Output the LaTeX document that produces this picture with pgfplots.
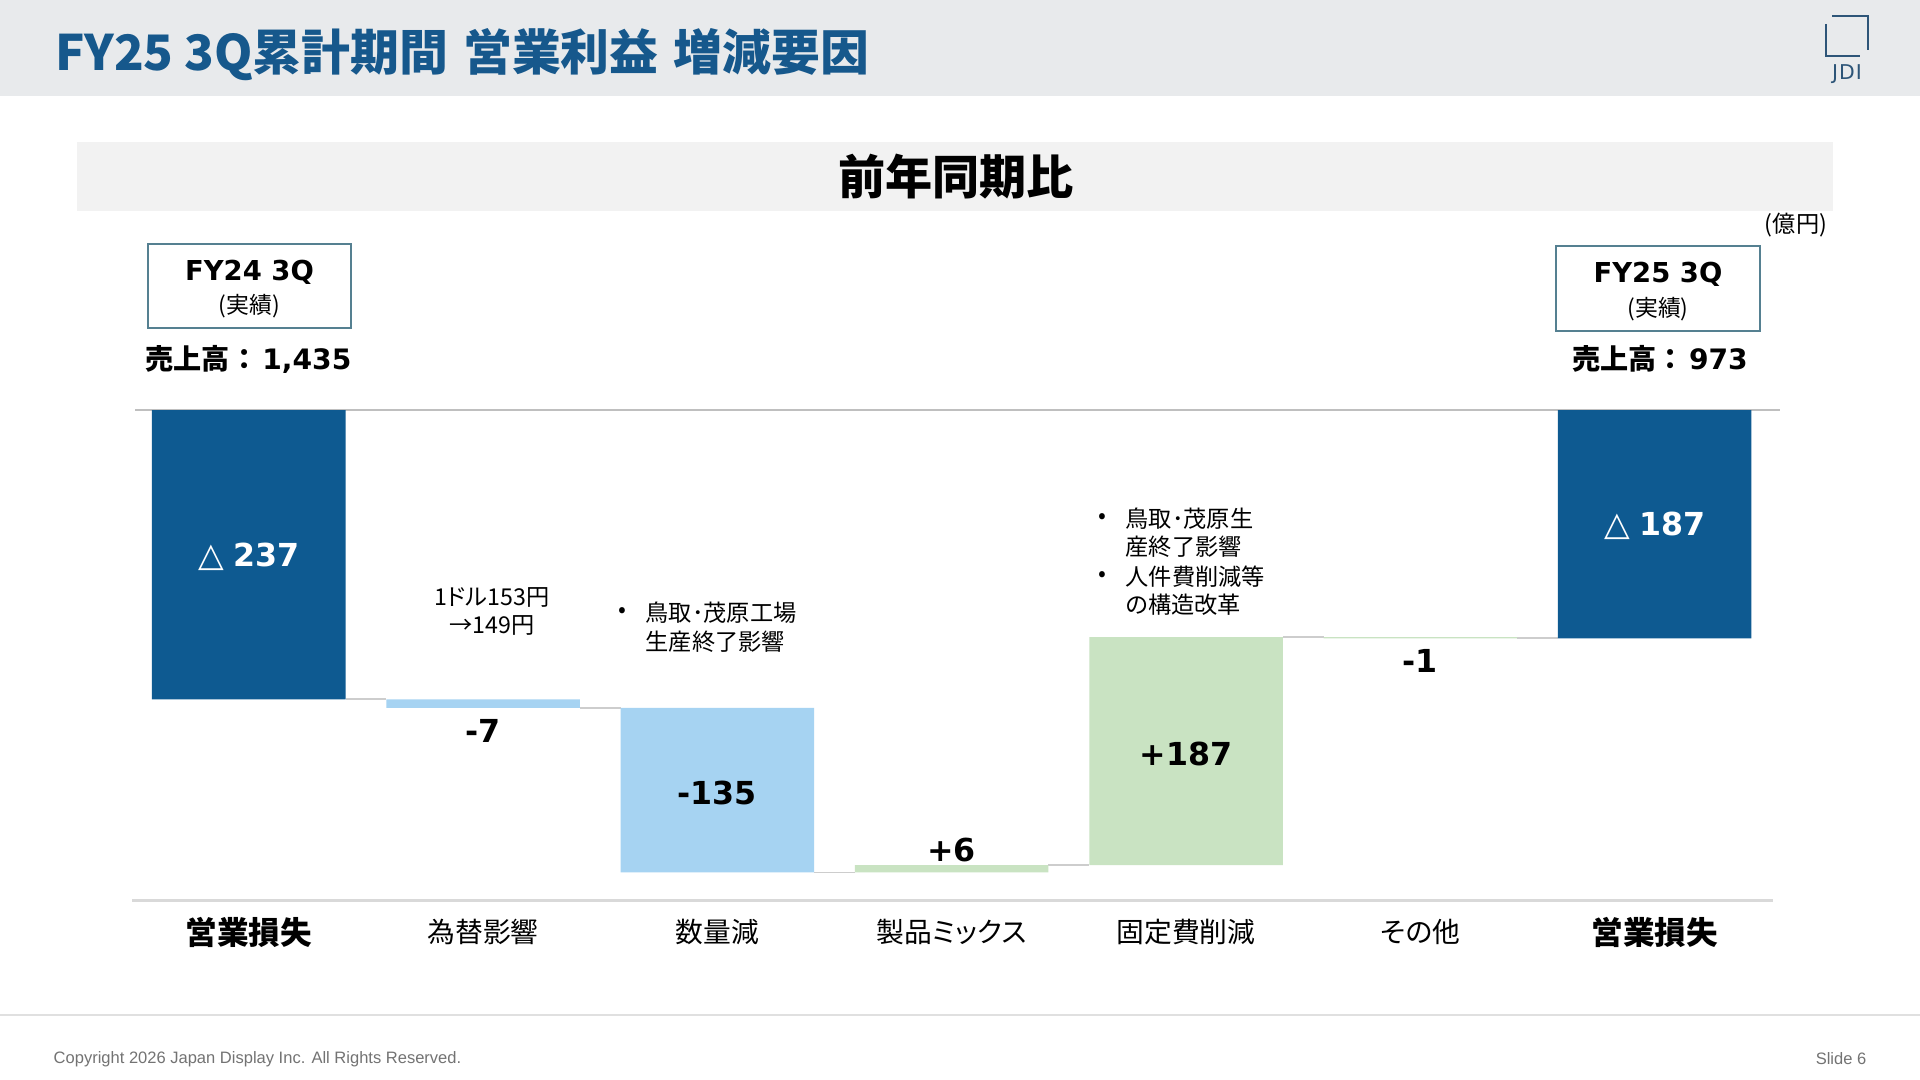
\documentclass[border=0pt]{standalone}
\usepackage{pgfplots}
\pgfplotsset{compat=1.18}
\usepackage{fontspec}
\setmainfont{Noto Sans CJK JP}
\newfontfamily\jpp{Noto Sans CJK JP}[RawFeature=+palt]
\newfontfamily\lat{DejaVu Sans}
\newfontfamily\arial{Liberation Sans}
\newcommand{\fs}[1]{\fontsize{#1}{#1}\selectfont}
\definecolor{dblue}{RGB}{14,90,145}
\definecolor{lblue}{RGB}{166,211,242}
\definecolor{lgreen}{RGB}{201,227,194}
\definecolor{ttl}{RGB}{22,88,140}
\definecolor{hdr}{RGB}{232,234,236}
\definecolor{band}{RGB}{242,242,242}
\definecolor{boxc}{RGB}{85,128,145}
\definecolor{zline}{RGB}{191,191,191}
\definecolor{bline}{RGB}{217,217,217}
\definecolor{conn}{RGB}{205,205,205}
\definecolor{footc}{RGB}{224,224,224}
\definecolor{foottext}{RGB}{115,115,115}
\definecolor{logoc}{RGB}{45,85,120}
\pgfplotsset{myax/.style={at={(1.315cm,1.80cm)}, anchor=south west, scale only axis,
  width=16.51cm, height=4.90cm, xmin=-0.5, xmax=6.55, ymin=-402, ymax=0,
  axis lines=none, clip=false}}
\begin{document}
\begin{tikzpicture}
\begin{scope}[x=0.01cm,y=-0.01cm,yshift=10.8cm]
\useasboundingbox (0,0) rectangle (1920,1080);
\fill[white] (0,0) rectangle (1920,1080);
\fill[hdr] (0,0) rectangle (1920,96);
\node[anchor=west, text=ttl, font=\fs{13.9}\bfseries, inner sep=0pt] at (55,55) {FY25 3Q累計期間\hspace{0.3em}営業利益\hspace{0.3em}増減要因};
% logo
\draw[logoc, line width=0.8pt] (1832,16) -- (1868,16) -- (1868,50);
\draw[logoc, line width=0.8pt] (1826,24) -- (1826,56) -- (1860,56);
\node[text=logoc, font=\lat\fs{5.8}, inner sep=0pt] at (1847,74) {J\kern0.05em D\kern0.05em I};
% subtitle band
\fill[band] (77,142) rectangle (1833,211);
\node[font=\fs{13.4}\bfseries, inner sep=0pt] at (956,177) {前年同期比};
\node[font=\fs{6.6}, inner sep=0pt] at (1796,225) {(億円)};
% boxes
\draw[boxc, line width=0.6pt, fill=white] (148,244) rectangle (351,328);
\node[font=\lat\bfseries\fs{7.8}, inner sep=0pt] at (249.5,272) {FY24 3Q};
\node[font=\fs{6.5}, inner sep=0pt] at (249.5,306) {(実績)};
\node[font=\fs{8}\bfseries, inner sep=0pt] at (248.5,359) {売上高：\hspace{0.15em}{\lat\bfseries 1,435}};
\draw[boxc, line width=0.6pt, fill=white] (1556,246) rectangle (1760,331);
\node[font=\lat\bfseries\fs{7.8}, inner sep=0pt] at (1658,274) {FY25 3Q};
\node[font=\fs{6.5}, inner sep=0pt] at (1658,309) {(実績)};
\node[font=\fs{8}\bfseries, inner sep=0pt] at (1660,359) {売上高：\hspace{0.15em}{\lat\bfseries 973}};
% annotations
\node[font=\jpp\fs{6.6}, inner sep=0pt] at (492,598) {1ドル153円};
\node[font=\jpp\fs{6.6}, inner sep=0pt] at (492,626) {→149円};
\node[font=\fs{6.6}, inner sep=0pt] at (622,613) {•};
\node[font=\jpp\fs{6.6}, inner sep=0pt, anchor=west] at (645,613) {鳥取･茂原工場};
\node[font=\jpp\fs{6.6}, inner sep=0pt, anchor=west] at (645,642) {生産終了影響};
\node[font=\fs{6.6}, inner sep=0pt] at (1102,519) {•};
\node[font=\jpp\fs{6.6}, inner sep=0pt, anchor=west] at (1125,519) {鳥取･茂原生};
\node[font=\jpp\fs{6.6}, inner sep=0pt, anchor=west] at (1125,547) {産終了影響};
\node[font=\fs{6.6}, inner sep=0pt] at (1102,577) {•};
\node[font=\jpp\fs{6.6}, inner sep=0pt, anchor=west] at (1125,577) {人件費削減等};
\node[font=\jpp\fs{6.6}, inner sep=0pt, anchor=west] at (1125,605) {の構造改革};
% footer
\draw[footc, line width=0.7pt] (0,1015) -- (1920,1015);
\node[text=foottext, font=\arial\fs{4.7}, inner sep=0pt, anchor=west] at (53,1059) {Copyright 2026 Japan Display Inc. All Rights Reserved.};
\node[text=foottext, font=\arial\fs{4.7}, inner sep=0pt, anchor=east] at (1867,1059) {Slide 6};
\end{scope}
% lines axis
\begin{axis}[myax]
\addplot[zline, line width=0.6pt] coordinates {(-0.485,0) (6.535,0)};
\addplot[bline, line width=0.6pt] coordinates {(-0.498,-402) (6.505,-402)};
\addplot[conn, line width=0.5pt] coordinates {(0.413,-237) (0.587,-237)};
\addplot[conn, line width=0.5pt] coordinates {(1.413,-244) (1.587,-244)};
\addplot[conn, line width=0.5pt] coordinates {(2.413,-379) (2.587,-379)};
\addplot[conn, line width=0.5pt] coordinates {(3.413,-373) (3.587,-373)};
\addplot[conn, line width=0.5pt] coordinates {(4.413,-186) (4.587,-186)};
\addplot[conn, line width=0.5pt] coordinates {(5.413,-187) (5.587,-187)};
\end{axis}
% bars axis
\begin{axis}[myax, ybar stacked, stack negative=on previous, bar width=0.826]
\addplot[draw=none, fill=none] coordinates {(0,0) (1,-237) (2,-244) (3,-379) (4,-373) (5,-186) (6,0)};
\addplot[fill=dblue, draw=none] coordinates {(0,-237) (1,0) (2,0) (3,0) (4,0) (5,0) (6,-187)};
\addplot[fill=lblue, draw=none] coordinates {(0,0) (1,-7) (2,-135) (3,0) (4,0) (5,0) (6,0)};
\addplot[fill=lgreen, draw=none] coordinates {(0,0) (1,0) (2,0) (3,6) (4,187) (5,-1) (6,0)};
\end{axis}
% labels axis
\begin{axis}[myax]
\node[text=white, font=\fs{9}, inner sep=0pt] at (axis cs:0,-120) {{\lat\fs{9.5}△}\hspace{0.3em}{\lat\bfseries 237}};
\node[text=white, font=\fs{9}, inner sep=0pt] at (axis cs:6,-95) {{\lat\fs{9.5}△}\hspace{0.3em}{\lat\bfseries 187}};
\node[font=\lat\bfseries\fs{9}, inner sep=0pt] at (axis cs:1,-263) {-7};
\node[font=\lat\bfseries\fs{9}, inner sep=0pt] at (axis cs:2,-314) {-135};
\node[font=\lat\bfseries\fs{9}, inner sep=0pt] at (axis cs:3,-361) {+6};
\node[font=\lat\bfseries\fs{9}, inner sep=0pt] at (axis cs:4,-282) {+187};
\node[font=\lat\bfseries\fs{9}, inner sep=0pt] at (axis cs:5,-206) {-1};
\node[font=\fs{9}\bfseries, inner sep=0pt] at (axis cs:0,-428) {営業損失};
\node[font=\jpp\fs{7.9}, inner sep=0pt] at (axis cs:1,-428) {為替影響};
\node[font=\jpp\fs{7.9}, inner sep=0pt] at (axis cs:2,-428) {数量減};
\node[font=\jpp\fs{7.9}, inner sep=0pt] at (axis cs:3,-428) {製品ミックス};
\node[font=\jpp\fs{7.9}, inner sep=0pt] at (axis cs:4,-428) {固定費削減};
\node[font=\jpp\fs{7.9}, inner sep=0pt] at (axis cs:5,-428) {その他};
\node[font=\fs{9}\bfseries, inner sep=0pt] at (axis cs:6,-428) {営業損失};
\end{axis}
\end{tikzpicture}
\end{document}
